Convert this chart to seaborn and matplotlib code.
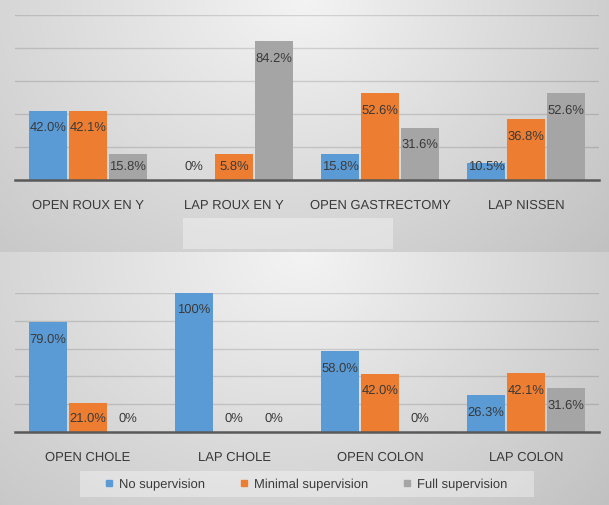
import numpy as np
import pandas as pd
import seaborn as sns
import matplotlib.pyplot as plt
from matplotlib.patches import Rectangle
from matplotlib.lines import Line2D

levels = ['No supervision', 'Minimal supervision', 'Full supervision']
colors = ['#5B9BD5', '#ED7D31', '#A5A5A5']

# top chart
top_procs = ['OPEN ROUX EN Y', 'LAP ROUX EN Y', 'OPEN GASTRECTOMY', 'LAP NISSEN']
top_none = [42.0, 0.0, 15.8, 10.5]
top_min = [42.1, 15.8, 52.6, 36.8]
top_full = [15.8, 84.2, 31.6, 52.6]
top_none_lbl = ['42.0%', '0%', '15.8%', '10.5%']
top_min_lbl = ['42.1%', '5.8%', '52.6%', '36.8%']
top_full_lbl = ['15.8%', '84.2%', '31.6%', '52.6%']

# bottom chart
bot_procs = ['OPEN CHOLE', 'LAP CHOLE', 'OPEN COLON', 'LAP COLON']
bot_none = [79.0, 100.0, 58.0, 26.3]
bot_min = [21.0, 0.0, 42.0, 42.1]
bot_full = [0.0, 0.0, 0.0, 31.6]
bot_none_lbl = ['79.0%', '100%', '58.0%', '26.3%']
bot_min_lbl = ['21.0%', '0%', '42.0%', '42.1%']
bot_full_lbl = ['0%', '0%', '0%', '31.6%']

TXT = '#3a3a3a'
plt.rcParams['font.family'] = ['Liberation Sans', 'DejaVu Sans']
plt.rcParams['text.hinting'] = 'no_hinting'
plt.rcParams['text.hinting_factor'] = 1


def make_df(procs, a, b, c):
    return pd.DataFrame({
        'procedure': procs * 3,
        'level': [lv for lv in levels for _ in procs],
        'pct': a + b + c,
    })


def draw(ax, df, procs, lbls):
    sns.barplot(df, x='procedure', y='pct', hue='level', order=procs,
                hue_order=levels, palette=colors, saturation=1, width=0.82,
                gap=0.03, errorbar=None, legend=False, ax=ax, zorder=3)
    ax.set_facecolor('none')
    ax.set_ylim(0, 100)
    ax.set_xlim(-0.5, 3.5)
    ax.set_yticks([20, 40, 60, 80, 100])
    ax.tick_params(axis='y', length=0, labelleft=False)
    ax.grid(axis='y', color='black', alpha=0.13, lw=1)
    ax.set_axisbelow(True)
    for s in ax.spines.values():
        s.set_visible(False)
    ax.axhline(0, color='#595959', lw=1.8, zorder=5, clip_on=False)
    ax.set_xlabel('')
    ax.set_ylabel('')
    ax.tick_params(axis='x', length=0, pad=13, labelsize=9, labelcolor=TXT)

    # data labels, "inside end" but kept off the baseline
    ppu = ax.get_position().height * fig.get_figheight() * fig.dpi / 100
    for cont, lab in zip(ax.containers, lbls):
        for rect in cont:
            xc = rect.get_x() + rect.get_width() / 2
            idx = int(round(xc))
            h = rect.get_height()
            y = max(h * ppu - 16, 14) / ppu
            ax.text(xc, y, lab[idx], ha='center', va='center',
                    fontsize=9, color=TXT, zorder=6)


fig = plt.figure(figsize=(6.09, 5.06), dpi=100)

# gradient background, one per chart
H, W = 506, 609
yy, xx = np.mgrid[0:H, 0:W]
py = (yy % 253) / 253
xn = xx / W
d = np.sqrt(((xn - 0.5) / 0.5) ** 2 + py ** 2)
g = 0.97 - 0.13 * d - 0.03 * xn
bg = fig.add_axes([0, 0, 1, 1], zorder=-5)
bg.imshow(np.dstack([g, g, g]), extent=[0, 1, 0, 1], aspect='auto')
bg.axis('off')

# empty legend box of the top chart and legend box of the bottom chart
fig.patches.append(Rectangle((183 / W, (H - 250) / H), 210 / W, 31 / H,
                             transform=fig.transFigure, facecolor='white',
                             alpha=0.35, edgecolor='none', zorder=-1))
fig.patches.append(Rectangle((80 / W, 8 / H), 454 / W, 26 / H,
                             transform=fig.transFigure, facecolor='white',
                             alpha=0.35, edgecolor='none', zorder=-1))

ax1 = fig.add_axes([15 / W, (H - 181) / H, 584 / W, 165 / H])
ax2 = fig.add_axes([15 / W, (H - 433) / H, 584 / W, 139 / H])

draw(ax1, make_df(top_procs, top_none, top_min, top_full), top_procs,
     [top_none_lbl, top_min_lbl, top_full_lbl])
draw(ax2, make_df(bot_procs, bot_none, bot_min, bot_full), bot_procs,
     [bot_none_lbl, bot_min_lbl, bot_full_lbl])

handles = [Line2D([], [], ls='none', marker='s', markersize=5, color=c)
           for c in colors]
fig.legend(handles, levels, loc='center', bbox_to_anchor=(306 / W, 1 - 485 / H),
           ncol=3, frameon=False, fontsize=9, labelcolor=TXT,
           handlelength=0.7, handletextpad=0.45, columnspacing=2.75)

fig.savefig('out.png', dpi=100)
